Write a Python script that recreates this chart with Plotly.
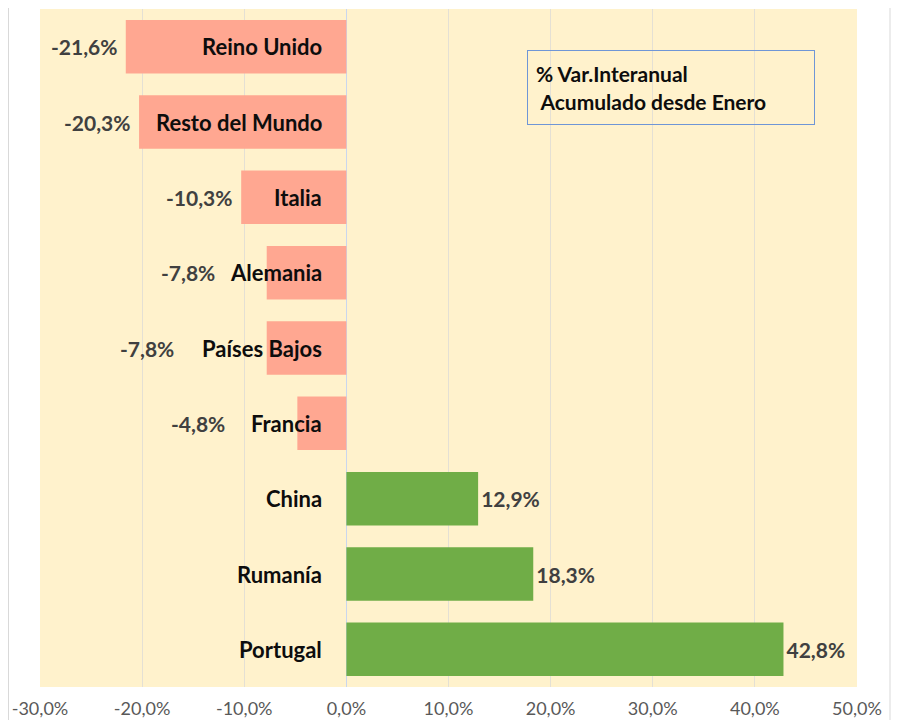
import plotly.graph_objects as go

categories = ["Reino Unido", "Resto del Mundo", "Italia", "Alemania", "Países Bajos",
              "Francia", "China", "Rumanía", "Portugal"]
values = [-21.6, -20.3, -10.3, -7.8, -7.8, -4.8, 12.9, 18.3, 42.8]
tick_vals = [-30, -20, -10, 0, 10, 20, 30, 40, 50]
tick_text = ["-30,0%", "-20,0%", "-10,0%", "0,0%", "10,0%", "20,0%", "30,0%", "40,0%", "50,0%"]
legend_text = "% Var.Interanual<br> Acumulado desde Enero"

NEG = "#FFA791"
POS = "#70AD47"
FONT = "Lato, Open Sans, sans-serif"

W, H = 887, 712
ML, MR, MT, MB = 32, 38, 1, 33
PW = W - ML - MR


def fmt(v):
    return f"{v:.1f}%".replace(".", ",")


def px_to_paper(fx):
    return (fx - ML) / PW


colors = [NEG if v < 0 else POS for v in values]

fig = go.Figure()
fig.add_trace(go.Bar(
    y=categories, x=values, orientation="h",
    marker=dict(color=colors, line=dict(width=0)),
    width=0.71,
    text=[f"<b>{fmt(v)}</b>" if v > 0 else "" for v in values],
    textposition="outside",
    textfont=dict(family=FONT, size=21, color="#404040"),
    cliponaxis=False,
    hoverinfo="skip",
))

label_x = -2.2
for name, v in zip(categories, values):
    fig.add_annotation(x=label_x, y=name, text=f"<b>{name}</b>", showarrow=False,
                       xanchor="right", yanchor="middle",
                       font=dict(family=FONT, size=22, color="#0D0D0D"))
    if v < 0:
        start = label_x - len(name) * 1.0
        vx = min(v - 0.6, start - 2.5)
        fig.add_annotation(x=vx, y=name, text=f"<b>{fmt(v)}</b>", showarrow=False,
                           xanchor="right", yanchor="middle",
                           font=dict(family=FONT, size=21, color="#404040"))

fig.add_annotation(xref="paper", yref="paper", x=px_to_paper(519), y=1 - (42 - MT) / (H - MT - MB),
                   text=f"<b>{legend_text}</b>",
                   showarrow=False, xanchor="left", yanchor="top", align="left",
                   font=dict(family=FONT, size=21, color="#0D0D0D"),
                   bordercolor="#6F96D6", borderwidth=1, borderpad=8,
                   width=270, height=57, valign="middle")

fig.update_layout(
    width=W, height=H,
    margin=dict(l=ML, r=MR, t=MT, b=MB),
    paper_bgcolor="white",
    plot_bgcolor="#FFF2CC",
    showlegend=False,
    bargap=0.29,
    xaxis=dict(range=[-30, 50], tickvals=tick_vals, ticktext=tick_text, automargin=False,
               showgrid=True, gridcolor="#E4E0D4", gridwidth=1, zeroline=True,
               zerolinecolor="#C9D6EE", zerolinewidth=1,
               tickfont=dict(family="Liberation Sans Narrow, Arial Narrow, Lato, sans-serif", size=18, color="#595959"),
               ticks="outside", ticklen=5, tickcolor="rgba(0,0,0,0)",
               showline=False, fixedrange=True),
    yaxis=dict(autorange="reversed", showticklabels=False, showgrid=False, ticks="",
               automargin=False, fixedrange=True),
    shapes=[
        dict(type="line", xref="paper", yref="paper", x0=px_to_paper(0.5), x1=px_to_paper(0.5),
             y0=-MB / (H - MT - MB), y1=1 + MT / (H - MT - MB), line=dict(color="#D9D9D9", width=1)),
        dict(type="line", xref="paper", yref="paper", x0=px_to_paper(882), x1=px_to_paper(882),
             y0=-MB / (H - MT - MB), y1=1 + MT / (H - MT - MB), line=dict(color="#D9D9D9", width=1)),
    ],
)

fig.write_html("out.html")
